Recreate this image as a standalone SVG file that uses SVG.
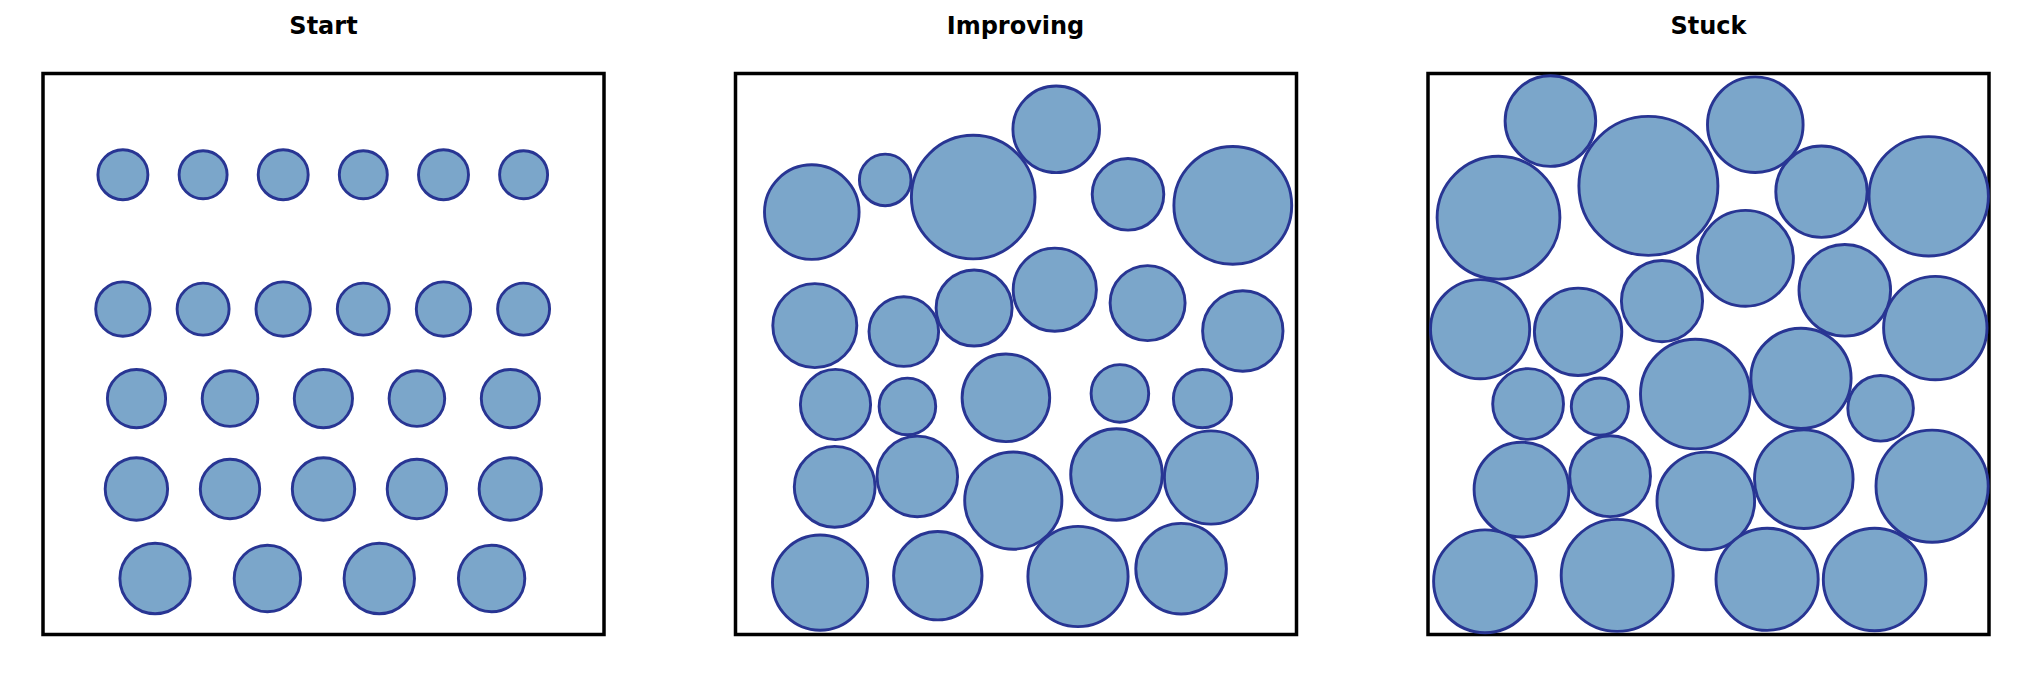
<svg xmlns="http://www.w3.org/2000/svg" width="2032" height="678" viewBox="0 0 2032 678">
<style>
.t{font-family:"DejaVu Sans",sans-serif;font-weight:bold;font-size:24px;fill:#000;text-anchor:middle}
.f{fill:none;stroke:#000;stroke-width:3.5}
.c{fill:#7ba6ca;stroke:#283593;stroke-width:2.9}
</style>
<rect width="2032" height="678" fill="#fff"/>
<g id="panel-start">
<text class="t" x="323.5" y="33.5">Start</text>
<rect class="f" x="43" y="73.5" width="561" height="561"/>
<g id="start-circles">
<circle class="c" cx="122.9" cy="174.7" r="25"/>
<circle class="c" cx="203.1" cy="174.7" r="24"/>
<circle class="c" cx="283.2" cy="174.7" r="25"/>
<circle class="c" cx="363.3" cy="174.7" r="24"/>
<circle class="c" cx="443.5" cy="174.7" r="25"/>
<circle class="c" cx="523.6" cy="174.7" r="24"/>
<circle class="c" cx="122.9" cy="309.1" r="27.2"/>
<circle class="c" cx="203.1" cy="309.1" r="26"/>
<circle class="c" cx="283.2" cy="309.1" r="27.2"/>
<circle class="c" cx="363.3" cy="309.1" r="26"/>
<circle class="c" cx="443.5" cy="309.1" r="27.2"/>
<circle class="c" cx="523.6" cy="309.1" r="26"/>
<circle class="c" cx="136.5" cy="398.6" r="29.1"/>
<circle class="c" cx="230" cy="398.6" r="27.8"/>
<circle class="c" cx="323.4" cy="398.6" r="29.1"/>
<circle class="c" cx="416.9" cy="398.6" r="27.8"/>
<circle class="c" cx="510.4" cy="398.6" r="29.1"/>
<circle class="c" cx="136.4" cy="489" r="31.2"/>
<circle class="c" cx="230" cy="489" r="29.7"/>
<circle class="c" cx="323.5" cy="489" r="31.2"/>
<circle class="c" cx="416.9" cy="489" r="29.7"/>
<circle class="c" cx="510.3" cy="489" r="31.2"/>
<circle class="c" cx="155.1" cy="578.5" r="35.2"/>
<circle class="c" cx="267.4" cy="578.5" r="33.2"/>
<circle class="c" cx="379.3" cy="578.5" r="35.2"/>
<circle class="c" cx="491.6" cy="578.5" r="33.2"/>
</g>
</g>
<g id="panel-improving">
<text class="t" x="1015.5" y="33.5">Improving</text>
<rect class="f" x="735.5" y="73.5" width="561" height="561"/>
<g id="improving-circles">
<circle class="c" cx="811.8" cy="212.1" r="47.3"/>
<circle class="c" cx="885.2" cy="179.9" r="25.8"/>
<circle class="c" cx="973.2" cy="197.1" r="61.8"/>
<circle class="c" cx="1056.2" cy="129.3" r="43.3"/>
<circle class="c" cx="1128" cy="194.3" r="35.8"/>
<circle class="c" cx="1232.8" cy="205.4" r="58.9"/>
<circle class="c" cx="814.8" cy="325.6" r="42"/>
<circle class="c" cx="903.8" cy="331.6" r="34.8"/>
<circle class="c" cx="974.1" cy="308" r="38"/>
<circle class="c" cx="1054.8" cy="289.7" r="41.6"/>
<circle class="c" cx="1147.6" cy="303.1" r="37.5"/>
<circle class="c" cx="1242.8" cy="331" r="40.2"/>
<circle class="c" cx="835.5" cy="404.5" r="35.1"/>
<circle class="c" cx="907.4" cy="406.4" r="28.3"/>
<circle class="c" cx="1005.9" cy="397.8" r="43.8"/>
<circle class="c" cx="1119.9" cy="393.4" r="28.8"/>
<circle class="c" cx="1202.5" cy="398.6" r="29.1"/>
<circle class="c" cx="834.7" cy="486.8" r="40.4"/>
<circle class="c" cx="917.3" cy="476.4" r="40.3"/>
<circle class="c" cx="1013.3" cy="500.6" r="48.6"/>
<circle class="c" cx="1116.5" cy="474.5" r="45.8"/>
<circle class="c" cx="1211" cy="477.5" r="46.6"/>
<circle class="c" cx="820.1" cy="582.6" r="47.6"/>
<circle class="c" cx="937.8" cy="575.7" r="44.2"/>
<circle class="c" cx="1078" cy="576.5" r="50.1"/>
<circle class="c" cx="1181.1" cy="568.7" r="45.3"/>
</g>
</g>
<g id="panel-stuck">
<text class="t" x="1708.5" y="33.5">Stuck</text>
<rect class="f" x="1428" y="73.5" width="561" height="561"/>
<g id="stuck-circles">
<circle class="c" cx="1550.4" cy="121.1" r="45.3"/>
<circle class="c" cx="1648.4" cy="185.9" r="69.5"/>
<circle class="c" cx="1755.3" cy="124.7" r="47.8"/>
<circle class="c" cx="1498.5" cy="217.7" r="61.4"/>
<circle class="c" cx="1821.5" cy="191.7" r="45.7"/>
<circle class="c" cx="1928.7" cy="196.3" r="59.7"/>
<circle class="c" cx="1745.5" cy="258.3" r="47.9"/>
<circle class="c" cx="1662" cy="301.1" r="40.6"/>
<circle class="c" cx="1844.8" cy="290.3" r="45.8"/>
<circle class="c" cx="1480.1" cy="329.2" r="49.6"/>
<circle class="c" cx="1578.1" cy="331.8" r="43.7"/>
<circle class="c" cx="1935.3" cy="328.1" r="51.7"/>
<circle class="c" cx="1695.3" cy="394.1" r="54.8"/>
<circle class="c" cx="1801" cy="378.3" r="50.1"/>
<circle class="c" cx="1528.1" cy="404" r="35.4"/>
<circle class="c" cx="1599.9" cy="406.6" r="28.6"/>
<circle class="c" cx="1880.6" cy="408.3" r="32.8"/>
<circle class="c" cx="1521.5" cy="489.6" r="47.4"/>
<circle class="c" cx="1610.1" cy="476.2" r="40.4"/>
<circle class="c" cx="1705.8" cy="500.9" r="48.8"/>
<circle class="c" cx="1803.8" cy="479.2" r="49.3"/>
<circle class="c" cx="1932.1" cy="486.2" r="56.1"/>
<circle class="c" cx="1485" cy="581.3" r="51.4"/>
<circle class="c" cx="1617.2" cy="575.4" r="56"/>
<circle class="c" cx="1767.1" cy="579.3" r="51.1"/>
<circle class="c" cx="1874.6" cy="579.5" r="51.3"/>
</g>
</g>
</svg>
